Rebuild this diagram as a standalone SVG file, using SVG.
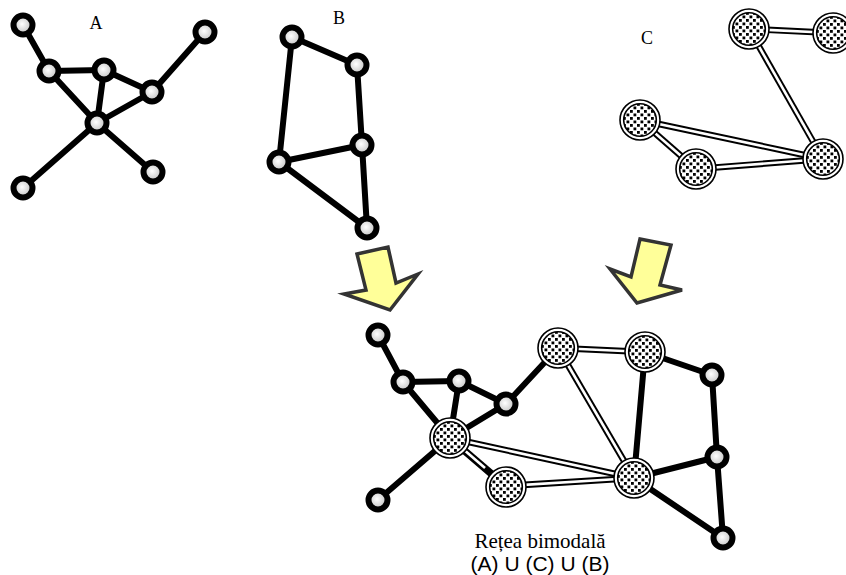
<svg xmlns="http://www.w3.org/2000/svg" width="846" height="575" viewBox="0 0 846 575">
<defs>
<radialGradient id="gl" cx="0.45" cy="0.45" r="0.6">
<stop offset="0" stop-color="#ffffff"/>
<stop offset="1" stop-color="#b8b8b8"/>
</radialGradient>
<pattern id="dots" width="7" height="7" patternUnits="userSpaceOnUse">
<rect width="7" height="7" fill="#fff"/>
<rect x="0.5" y="0.5" width="2.8" height="2.8" fill="#000"/>
<rect x="4" y="4" width="2.8" height="2.8" fill="#000"/>
</pattern>
<g id="sn"><circle r="9.5" fill="url(#gl)" stroke="#000" stroke-width="6"/></g>
<g id="bn"><circle r="20" fill="#fff" stroke="#000" stroke-width="1.6"/><circle r="16.3" fill="url(#dots)" stroke="#000" stroke-width="1.6"/></g>
</defs>
<style>
.e{stroke:#000;stroke-width:6;stroke-linecap:round;fill:none}
.d1{stroke:#000;stroke-width:6.5;fill:none}
.d2{stroke:#fff;stroke-width:2.6;fill:none}
.lab{font-family:"Liberation Serif",serif;font-size:18px;fill:#000}
.ar{fill:#ffff99;stroke:#333;stroke-width:3.5;stroke-linejoin:miter}
</style>
<rect width="846" height="575" fill="#fff"/>

<g id="connectors">
<!-- A -->
<line class="e" x1="23" y1="25" x2="49" y2="71"/>
<line class="e" x1="49" y1="71" x2="104" y2="70"/>
<line class="e" x1="49" y1="71" x2="97" y2="123"/>
<line class="e" x1="104" y1="70" x2="97" y2="123"/>
<line class="e" x1="104" y1="70" x2="152" y2="92"/>
<line class="e" x1="152" y1="92" x2="97" y2="123"/>
<line class="e" x1="152" y1="92" x2="205" y2="32"/>
<line class="e" x1="97" y1="123" x2="23" y2="188"/>
<line class="e" x1="97" y1="123" x2="153" y2="172"/>
<!-- B -->
<line class="e" x1="292" y1="37" x2="357" y2="65"/>
<line class="e" x1="357" y1="65" x2="362" y2="145"/>
<line class="e" x1="292" y1="37" x2="279" y2="162"/>
<line class="e" x1="279" y1="162" x2="362" y2="145"/>
<line class="e" x1="362" y1="145" x2="367" y2="228"/>
<line class="e" x1="279" y1="162" x2="367" y2="228"/>
<!-- C -->
<g>
<line class="d1" x1="749" y1="29" x2="833" y2="33"/>
<line class="d1" x1="749" y1="29" x2="823" y2="159"/>
<line class="d1" x1="640" y1="120" x2="823" y2="159"/>
<line class="d1" x1="640" y1="120" x2="696" y2="169"/>
<line class="d1" x1="696" y1="169" x2="823" y2="159"/>
<line class="d2" x1="749" y1="29" x2="833" y2="33"/>
<line class="d2" x1="749" y1="29" x2="823" y2="159"/>
<line class="d2" x1="640" y1="120" x2="823" y2="159"/>
<line class="d2" x1="640" y1="120" x2="696" y2="169"/>
<line class="d2" x1="696" y1="169" x2="823" y2="159"/>
</g>
<!-- Combined -->
<line class="e" x1="378" y1="335" x2="403" y2="382"/>
<line class="e" x1="403" y1="382" x2="459" y2="381"/>
<line class="e" x1="403" y1="382" x2="450" y2="438"/>
<line class="e" x1="459" y1="381" x2="450" y2="438"/>
<line class="e" x1="459" y1="381" x2="506" y2="404"/>
<line class="e" x1="506" y1="404" x2="450" y2="438"/>
<line class="e" x1="506" y1="404" x2="558" y2="348"/>
<line class="e" x1="450" y1="438" x2="378" y2="500"/>
<line class="e" x1="452" y1="441" x2="508" y2="489"/>
<line class="e" x1="645" y1="352" x2="712" y2="375"/>
<line class="e" x1="712" y1="375" x2="717" y2="457"/>
<line class="e" x1="645" y1="352" x2="634" y2="478"/>
<line class="e" x1="634" y1="478" x2="717" y2="457"/>
<line class="e" x1="717" y1="457" x2="723" y2="538"/>
<line class="e" x1="634" y1="478" x2="723" y2="538"/>
<g>
<line class="d1" x1="558" y1="348" x2="645" y2="352"/>
<line class="d1" x1="558" y1="348" x2="634" y2="478"/>
<line class="d1" x1="450" y1="438" x2="634" y2="478"/>
<line class="d1" x1="448" y1="436" x2="504" y2="484"/>
<line class="d1" x1="506" y1="486" x2="634" y2="478"/>
<line class="d2" x1="558" y1="348" x2="645" y2="352"/>
<line class="d2" x1="558" y1="348" x2="634" y2="478"/>
<line class="d2" x1="450" y1="438" x2="634" y2="478"/>
<line class="d2" x1="448" y1="436" x2="485" y2="468"/>
<line class="d2" x1="506" y1="486" x2="634" y2="478"/>
</g>
</g>

<g id="nodeA1"><use href="#sn" x="23" y="25"/></g>
<g id="nodeA2"><use href="#sn" x="49" y="71"/></g>
<g id="nodeA3"><use href="#sn" x="104" y="70"/></g>
<g id="nodeA4"><use href="#sn" x="152" y="92"/></g>
<g id="nodeA5"><use href="#sn" x="205" y="32"/></g>
<g id="nodeA6"><use href="#sn" x="97" y="123"/></g>
<g id="nodeA7"><use href="#sn" x="23" y="188"/></g>
<g id="nodeA8"><use href="#sn" x="153" y="172"/></g>

<g id="nodeB1"><use href="#sn" x="292" y="37"/></g>
<g id="nodeB2"><use href="#sn" x="357" y="65"/></g>
<g id="nodeB3"><use href="#sn" x="362" y="145"/></g>
<g id="nodeB4"><use href="#sn" x="279" y="162"/></g>
<g id="nodeB5"><use href="#sn" x="367" y="228"/></g>

<g id="nodeC1"><use href="#bn" x="749" y="29"/></g>
<g id="nodeC2"><use href="#bn" x="833" y="33"/></g>
<g id="nodeC3"><use href="#bn" x="640" y="120"/></g>
<g id="nodeC4"><use href="#bn" x="696" y="169"/></g>
<g id="nodeC5"><use href="#bn" x="823" y="159"/></g>

<g id="nodeD1"><use href="#sn" x="378" y="335"/></g>
<g id="nodeD2"><use href="#sn" x="403" y="382"/></g>
<g id="nodeD3"><use href="#sn" x="459" y="381"/></g>
<g id="nodeD4"><use href="#sn" x="506" y="404"/></g>
<g id="nodeD5"><use href="#sn" x="378" y="500"/></g>
<g id="nodeD6"><use href="#bn" x="450" y="438"/></g>
<g id="nodeD7"><use href="#bn" x="506" y="487"/></g>
<g id="nodeD8"><use href="#bn" x="558" y="348"/></g>
<g id="nodeD9"><use href="#bn" x="645" y="352"/></g>
<g id="nodeD10"><use href="#bn" x="634" y="478"/></g>
<g id="nodeE1"><use href="#sn" x="712" y="375"/></g>
<g id="nodeE2"><use href="#sn" x="717" y="457"/></g>
<g id="nodeE3"><use href="#sn" x="723" y="538"/></g>

<g id="arrow1"><polygon class="ar" points="357,254 388,247 396,283 418,274 390,310 344,294 366,290"/></g>
<g id="arrow2"><polygon class="ar" points="640,239 671,245 660,285 682,290 637,303 610,269 631,277"/></g>

<g id="labels">
<text class="lab" x="96" y="29" text-anchor="middle">A</text>
<text class="lab" x="339" y="24" text-anchor="middle">B</text>
<text class="lab" x="647" y="44" text-anchor="middle">C</text>
<text x="540" y="548" text-anchor="middle" font-family="Liberation Serif, serif" font-size="21">Rețea bimodală</text>
<text x="540" y="571" text-anchor="middle" font-family="Liberation Sans, Arial, sans-serif" font-size="21">(A) U (C) U (B)</text>
</g>
</svg>
